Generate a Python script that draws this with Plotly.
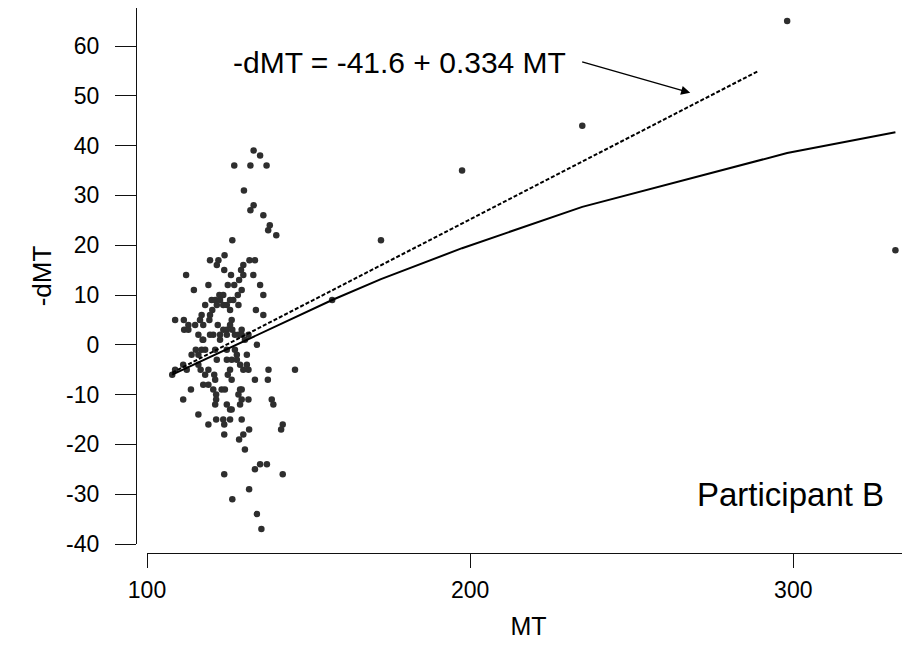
import plotly.graph_objects as go

# ---- data ----
MT = [133, 135, 127, 132, 137, 130, 133, 132, 136, 138, 137.5, 140, 126.4, 124, 119.5, 131.7, 133.4,
      122.1, 121.6, 123.9, 112.1, 114.5, 119, 122.4, 123.6, 120, 121.1, 122.6, 118, 121.6, 123.6,
      120.2, 119.5, 108.7, 111.4, 116.9, 116.4, 119.3, 112.8, 114.9, 117.4, 121.9, 111.5, 112.8,
      115.9, 120.5, 122.6, 117.4, 123.6,
      129.8, 129.1, 126, 129.8, 132.9, 128.5, 125, 127, 135, 129.3, 128.1, 136, 126.7, 125.7, 128.3,
      124.7, 125.7, 133.7, 136, 126.2, 125.7, 126.4, 129.3, 124.7, 127.2, 128.3,
      117.2, 119.5, 122.6, 115.1, 116.9, 118, 113.8, 115.9, 121.1, 121.6, 111.2, 112.3, 115.9, 108.7,
      107.8, 116.6, 119, 120.8, 118, 121.1, 117.4, 119, 123.1, 120.5, 113.6, 121.4, 121.4, 111.2,
      121.1, 115.9,
      124.7, 129.3, 131.4, 130.3, 134, 124.7, 127.2, 127.8, 130.9, 124.7, 126.2, 127.8, 128.8, 130.9,
      125.7, 129.8, 131.4, 137.6, 145.8, 125, 126.2, 133.4, 137.4, 124.1, 128.8, 129.3, 128.3, 129.3,
      131.4, 138.6, 128.8, 139.1, 124.7, 125.7, 126.2, 129.3,
      119, 121.4, 123.6, 125.7, 123.9, 142, 141.5, 131.6, 123.9, 129.8, 128.5, 130.3, 135, 137.1,
      133.4, 123.9, 142, 131.6, 126.4, 134, 135.4,
      157.3, 172.4, 197.5, 234.7, 298.1, 331.6]
DMT = [39, 38, 36, 36, 36, 31, 28, 27, 26, 24, 23, 22, 21, 18, 17, 17, 17,
       17, 16, 15, 14, 11, 12, 10, 10, 9, 9, 9, 8, 8, 8,
       7, 6, 5, 5, 6, 5, 5, 4, 4, 4, 4, 3, 3,
       2, 2, 2, 1, 3,
       16, 15, 14, 14, 14, 13, 12, 12, 12, 11, 10, 10, 9, 9, 8,
       8, 7, 7, 6, 5, 4, 3, 3, 3, 2, 2,
       1, 2, 1, -1, -1, -1, -2, -2, -1, -3, -4, -5, -4, -5,
       -6, -5, -5, -6, -6, -7, -8, -8, -9, -9, -9, -10, -11, -11,
       -12, -14,
       2, 2, 2, 1, 0, -1, -1, -2, -2, -3, -3, -3, -4, -4,
       -5, -5, -5, -5, -5, -6, -7, -7, -7, -9, -9, -9, -10, -11,
       -11, -11, -12, -12, -12, -13, -13, -15,
       -16, -15, -15, -15, -16, -16, -17, -17, -18, -18, -19, -21, -24, -24,
       -25, -26, -26, -29, -31, -34, -37,
       9, 21, 35, 44, 65, 19]

LOWESS_MT = [107.8, 147.4, 157.3, 172.4, 197.5, 234.7, 298.1, 331.6]
LOWESS_DMT = [-6.0, 6.0, 9.0, 13.2, 19.4, 27.7, 38.5, 42.7]

REG_INTERCEPT = -41.6
REG_SLOPE = 0.334
REG_MT = [107.8, 289.0]
REG_DMT = [REG_INTERCEPT + REG_SLOPE * m for m in REG_MT]

X_TICKS = [100, 200, 300]
X_TICK_LABELS = ["100", "200", "300"]
Y_TICKS = [-40, -30, -20, -10, 0, 10, 20, 30, 40, 50, 60]
Y_TICK_LABELS = ["-40", "-30", "-20", "-10", "0", "10", "20", "30", "40", "50", "60"]

EQ_TEXT = "-dMT = -41.6 + 0.334 MT"
PANEL_TEXT = "Participant B"

# the page body has an 8px margin, so the figure fills the rest of the window
OFF = 8
W, H = 910 - OFF, 646 - OFF
FONT = "Liberation Sans, Arial, Helvetica, sans-serif"
AX_COL = "#111111"

fig = go.Figure()
fig.add_trace(go.Scatter(x=MT, y=DMT, mode="markers",
                         marker=dict(size=6.5, color="#2e2e2e", line=dict(width=0)),
                         hoverinfo="x+y"))
fig.add_trace(go.Scatter(x=REG_MT, y=REG_DMT, mode="lines",
                         line=dict(color="black", width=2, dash="4px,2px")))
fig.add_trace(go.Scatter(x=LOWESS_MT, y=LOWESS_DMT, mode="lines",
                         line=dict(color="black", width=2)))

# equation label and arrow
fig.add_annotation(x=230.2, y=56.7, xref="x", yref="y", text=EQ_TEXT, showarrow=False,
                   xanchor="right", yanchor="middle",
                   font=dict(family=FONT, size=30, color="black"))
fig.add_annotation(x=268.1, y=50.6, xref="x", yref="y", ax=234.2, ay=56.9,
                   axref="x", ayref="y", text="", showarrow=True,
                   arrowhead=2, arrowsize=1.3, arrowwidth=1.4, arrowcolor="black", standoff=0)
fig.add_annotation(x=328.7, y=-30.1, xref="x", yref="y", text=PANEL_TEXT, showarrow=False,
                   xanchor="right", yanchor="middle",
                   font=dict(family=FONT, size=33, color="black"))

fig.update_layout(
    width=W, height=H,
    margin=dict(l=0, r=0, t=0, b=0),
    paper_bgcolor="white", plot_bgcolor="white",
    showlegend=False,
    font=dict(family=FONT, color="black"),
    xaxis=dict(
        domain=[(147 - OFF) / W, 1.0], range=[100, 100 + 763 / 3.2315],
        anchor="free", position=(H - (553 - OFF)) / H,
        showline=True, linecolor=AX_COL, linewidth=1.3,
        ticks="outside", ticklen=14, tickwidth=1.3, tickcolor=AX_COL,
        tickvals=X_TICKS, ticktext=X_TICK_LABELS, ticklabelstandoff=2,
        tickfont=dict(family=FONT, size=23, color="black"),
        showgrid=False, zeroline=False, automargin=False,
        title=dict(text="MT", font=dict(family=FONT, size=25, color="black"), standoff=15),
    ),
    yaxis=dict(
        domain=[(H - (544 - OFF)) / H, 1.0], range=[-40, (344.8 - OFF) / 4.98],
        anchor="free", position=(136 - OFF) / W,
        showline=True, linecolor=AX_COL, linewidth=1.3,
        ticks="outside", ticklen=21, tickwidth=1.3, tickcolor=AX_COL,
        tickvals=Y_TICKS, ticktext=Y_TICK_LABELS, ticklabelstandoff=11,
        tickfont=dict(family=FONT, size=23, color="black"),
        showgrid=False, zeroline=False, automargin=False,
        title=dict(text="-dMT", font=dict(family=FONT, size=26, color="black"), standoff=5),
    ),
)

fig.write_html("out.html")
